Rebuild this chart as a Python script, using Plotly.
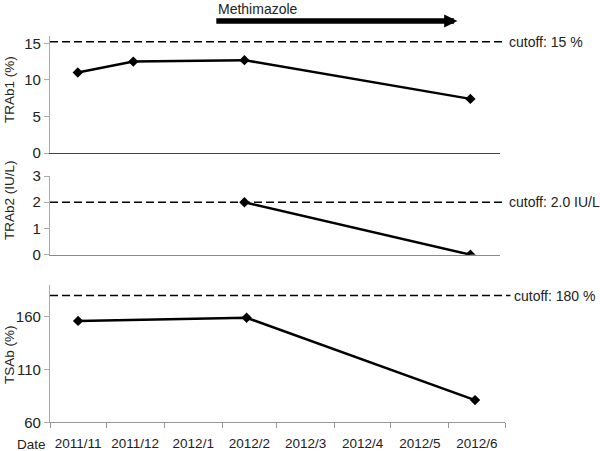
import plotly.graph_objects as go

dates = ["2011-11-16", "2011-12-16", "2012-02-14", "2012-06-15"]
trab1 = [11.0, 12.5, 12.7, 7.4]
trab2 = [None, None, 2.0, 0.0]
tsab = [156, None, 159, 81]
cutoffs = [15.2, 2.0, 180]
cutoff_labels = ["cutoff: 15 %", "cutoff: 2.0 IU/L", "cutoff: 180 %"]
y_titles = ["TRAb1 (%)", "TRAb2 (IU/L)", "TSAb (%)"]
treat_start, treat_end = "2012-01-29", "2012-06-08"
x_range = ["2011-11-01", "2012-07-01"]

W, H = 600, 451
FONT = "Liberation Sans, Arial, sans-serif"
TXT = "#222222"

fig = go.Figure()
series = [trab1, trab2, tsab]
for i, s in enumerate(series):
    fig.add_trace(go.Scatter(
        x=dates, y=s, mode="lines+markers", connectgaps=True,
        line=dict(color="black", width=2.5),
        marker=dict(symbol="diamond", size=8, color="black"),
        xaxis="x" if i == 0 else f"x{i+1}",
        yaxis="y" if i == 0 else f"y{i+1}",
        showlegend=False, hoverinfo="skip"))

def py(px):
    return 1 - px / H

xdom12 = [50 / W, 500 / W]
xdom3 = [50 / W, 505 / W]
ydoms = [[py(153), py(36)], [py(254.7), py(176)], [py(422.3), py(285)]]
yranges = [[0, 16], [0, 3], [60, 190]]
ytick = [[0, 5, 10, 15], [0, 1, 2, 3], [60, 110, 160]]
xline_cols = ["#444444", "#8a8a8a", "#999999"]

for i in range(3):
    sfx = "" if i == 0 else str(i + 1)
    xa = dict(type="date", range=x_range, domain=xdom3 if i == 2 else xdom12,
              anchor="y" + sfx, showgrid=False, zeroline=False,
              showline=True, linecolor=xline_cols[i], linewidth=1.2,
              fixedrange=True, automargin=False)
    if i == 2:
        xa.update(ticks="outside", ticklen=5, tickcolor="#999999",
                  dtick="M1", tick0="2011-11-01", tickformat="%Y/%-m",
                  ticklabelmode="period", ticklabelstandoff=3,
                  tickfont=dict(family=FONT, size=13.5, color=TXT))
    else:
        xa.update(showticklabels=False, ticks="")
    ya = dict(range=yranges[i], domain=ydoms[i], anchor="x" + sfx,
              tickvals=ytick[i], showgrid=False, zeroline=False,
              showline=True, linecolor="#aaaaaa", linewidth=1.2,
              ticks="outside", ticklen=5, tickcolor="#aaaaaa",
              tickfont=dict(family=FONT, size=15, color=TXT), fixedrange=True,
              automargin=False)
    fig.layout["xaxis" + sfx] = xa
    fig.layout["yaxis" + sfx] = ya

    # cutoff dashed line
    fig.add_shape(type="line", xref=("x" + sfx + " domain"), yref="y" + sfx,
                  x0=0, x1=1.012, y0=cutoffs[i], y1=cutoffs[i],
                  line=dict(color="black", width=1.5, dash="8px,4px"))
    fig.add_annotation(xref=("x" + sfx + " domain"), yref="y" + sfx,
                       x=1.016, y=cutoffs[i], text=cutoff_labels[i],
                       showarrow=False, xanchor="left", yanchor="middle",
                       font=dict(family=FONT, size=14, color=TXT))

# y titles
title_centers = [90, 200, 355]
for t, c in zip(y_titles, title_centers):
    fig.add_annotation(xref="paper", yref="paper", x=9 / W, y=py(c), text=t,
                       textangle=-90, showarrow=False, xanchor="center",
                       yanchor="middle", font=dict(family=FONT, size=13.5, color=TXT))

# Date label
fig.add_annotation(xref="paper", yref="paper", x=31 / W, y=py(444), text="Date",
                   showarrow=False, xanchor="center", yanchor="middle",
                   font=dict(family=FONT, size=13.5, color=TXT))

# Methimazole arrow
fig.add_annotation(xref="x", yref="paper", x=treat_end, y=py(21),
                   axref="x", ax=treat_start, ayref="pixel", ay=0, text="",
                   showarrow=True, arrowhead=2, arrowsize=0.48, arrowwidth=5.5,
                   arrowcolor="black", standoff=0, startstandoff=0)
fig.add_annotation(xref="x", yref="paper", x=treat_start, y=py(9),
                   text="Methimazole", showarrow=False, xanchor="left",
                   yanchor="middle", xshift=1,
                   font=dict(family=FONT, size=14, color=TXT))

fig.update_layout(width=W, height=H, margin=dict(l=0, r=0, t=0, b=0),
                  paper_bgcolor="white", plot_bgcolor="white",
                  font=dict(family=FONT, color=TXT))
fig.write_html("out.html", config={"displayModeBar": False},
               post_script="document.body.style.margin='0px';document.body.style.overflow='hidden';")
